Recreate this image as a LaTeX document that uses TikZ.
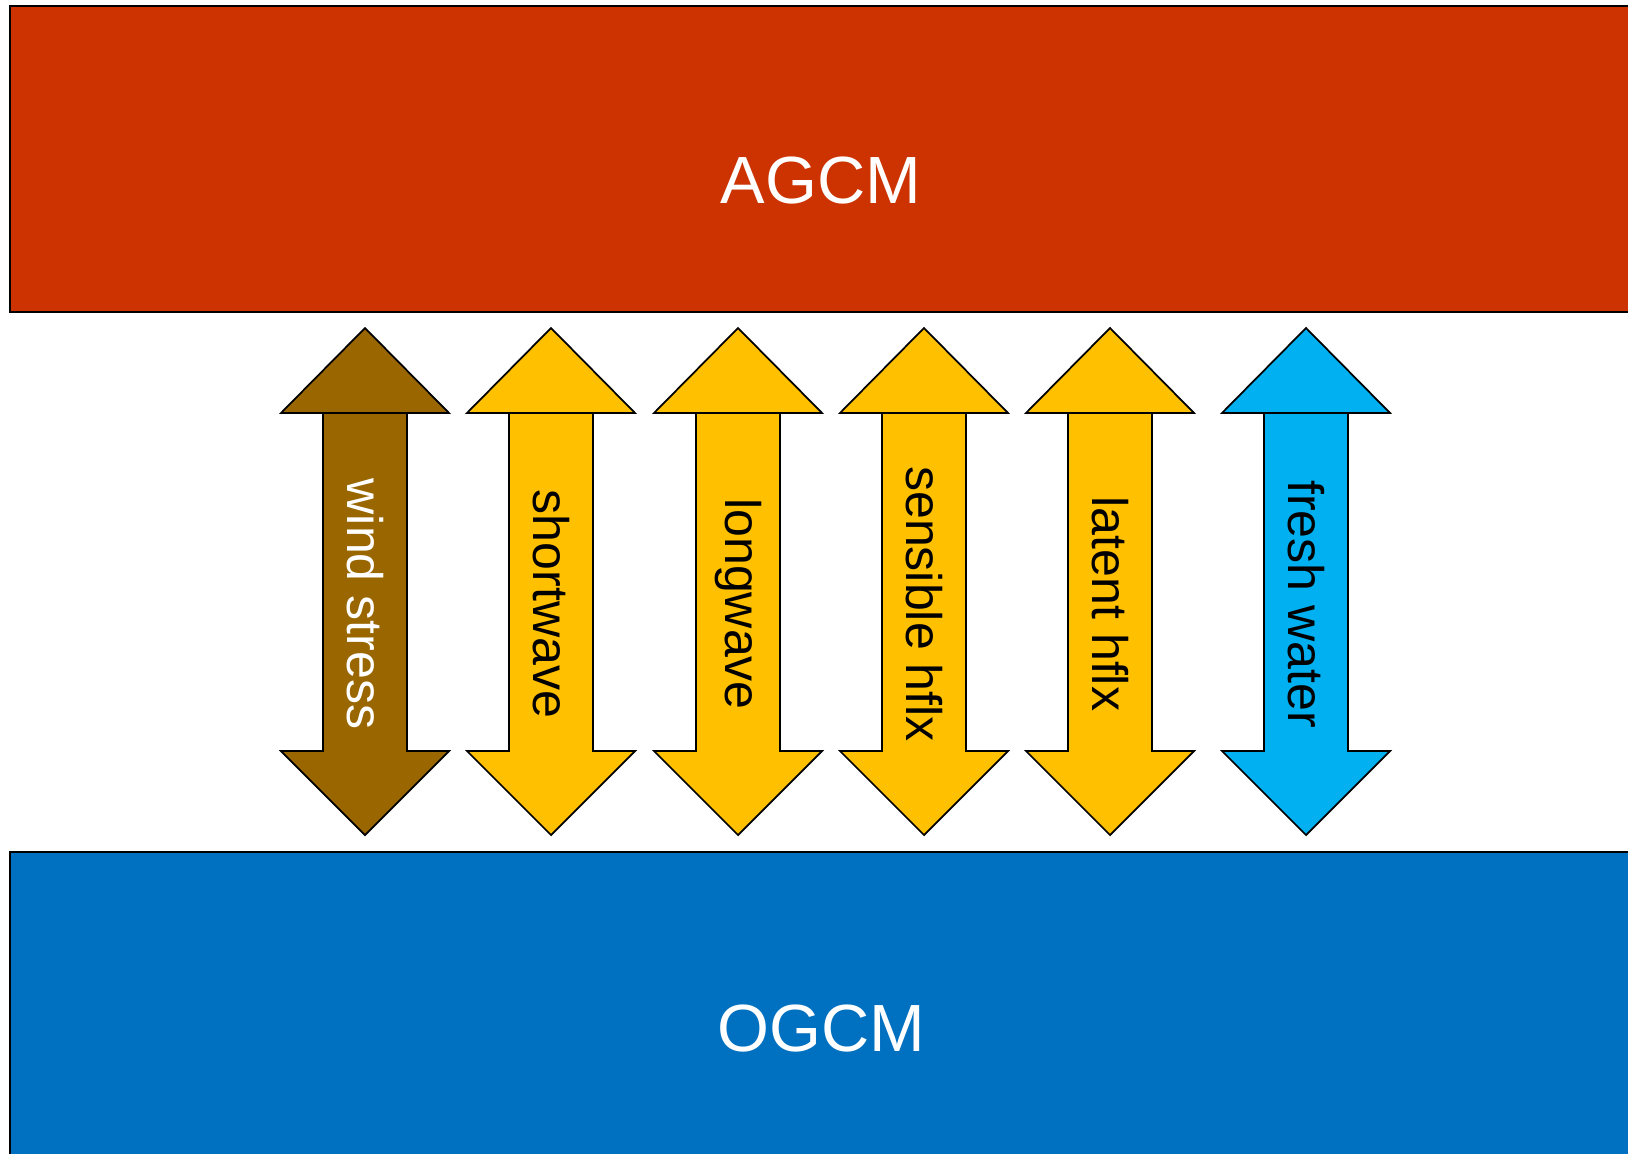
\documentclass[tikz,border=0pt]{standalone}
\usepackage{fontspec}
\setmainfont{Liberation Sans}
\usepackage{xcolor}
\usepackage{tikz}

\definecolor{agcmred}{HTML}{CC3300}
\definecolor{ogcmblue}{HTML}{0070C0}
\definecolor{windbrown}{HTML}{996600}
\definecolor{heatyellow}{HTML}{FFC000}
\definecolor{waterblue}{HTML}{00B0F0}

\begin{document}
\begin{tikzpicture}[x=0.02cm, y=-0.02cm,
    gcm/.style={draw=black, line width=1pt},
    flux/.style={draw=black, line width=1pt, line join=miter},
    gcmlbl/.style={font=\fontsize{38}{45}\selectfont, text=white, inner sep=0pt},
    fluxlbl/.style={rotate=-90, font=\fontsize{28.5}{34}\selectfont, inner sep=0pt},
]

\useasboundingbox (0,0) rectangle (1628,1153);
\clip (0,0) rectangle (1628,1153);

% model boxes
\draw[gcm, fill=agcmred] (10,6) rectangle (1645,312);
\draw[gcm, fill=ogcmblue] (10,852) rectangle (1645,1170);
\node[gcmlbl] (agcm) at (821,181) {AGCM};
\node[gcmlbl] (ogcm) at (821,1028) {OGCM};

% flux arrows
\draw[flux, fill=windbrown] (323,413) -- (281,413) -- (365,328) -- (449,413) -- (407,413) -- (407,751) -- (449,751) -- (365,835) -- (281,751) -- (323,751) -- cycle (323,413) -- (407,413);
\draw[flux, fill=heatyellow] (509,413) -- (467,413) -- (551,328) -- (635,413) -- (593,413) -- (593,751) -- (635,751) -- (551,835) -- (467,751) -- (509,751) -- cycle (509,413) -- (593,413);
\draw[flux, fill=heatyellow] (696,413) -- (654,413) -- (738,328) -- (822,413) -- (780,413) -- (780,751) -- (822,751) -- (738,835) -- (654,751) -- (696,751) -- cycle (696,413) -- (780,413);
\draw[flux, fill=heatyellow] (882,413) -- (840,413) -- (924,328) -- (1008,413) -- (966,413) -- (966,751) -- (1008,751) -- (924,835) -- (840,751) -- (882,751) -- cycle (882,413) -- (966,413);
\draw[flux, fill=heatyellow] (1068,413) -- (1026,413) -- (1110,328) -- (1194,413) -- (1152,413) -- (1152,751) -- (1194,751) -- (1110,835) -- (1026,751) -- (1068,751) -- cycle (1068,413) -- (1152,413);
\draw[flux, fill=waterblue] (1264,413) -- (1222,413) -- (1306,328) -- (1390,413) -- (1348,413) -- (1348,751) -- (1390,751) -- (1306,835) -- (1222,751) -- (1264,751) -- cycle (1264,413) -- (1348,413);

\node[fluxlbl, text=white] (wind) at (365,604) {wind stress};
\node[fluxlbl] (sw) at (551,604) {shortwave};
\node[fluxlbl] (lw) at (738,604) {longwave};
\node[fluxlbl] (sens) at (924,604) {sensible hflx};
\node[fluxlbl] (lat) at (1110,604) {latent hflx};
\node[fluxlbl] (fresh) at (1306,604) {fresh water};

\end{tikzpicture}
\end{document}
